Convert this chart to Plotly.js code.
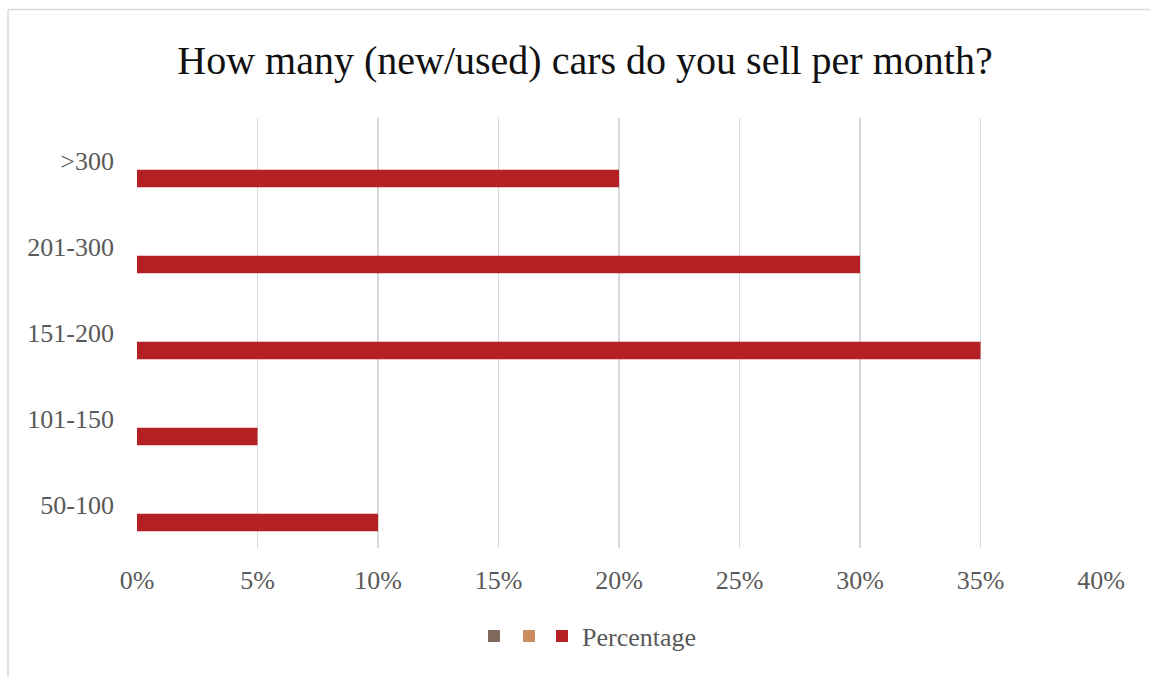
<!DOCTYPE html>
<html>
<head>
<meta charset="utf-8">
<script src="https://cdn.plot.ly/plotly-3.0.1.min.js"></script>
<style>html,body{margin:0;padding:0;background:#fff;}#chart{width:1150px;height:677px;}</style>
</head>
<body>
<div id="chart"></div>
<script>
const categories = ['50-100', '101-150', '151-200', '201-300', '>300'];
const percentage = [0.10, 0.05, 0.35, 0.30, 0.20];
const emptySeries1 = [0, 0, 0, 0, 0];
const emptySeries2 = [0, 0, 0, 0, 0];
const xTickVals = [0, 0.05, 0.10, 0.15, 0.20, 0.25, 0.30, 0.35, 0.40];
const xTickText = ['0%', '5%', '10%', '15%', '20%', '25%', '30%', '35%', '40%'];

const serif = 'Liberation Serif, DejaVu Serif, serif';
const legFont = {family: serif, size: 26, color: '#595959'};
const px = v => (v - 137) / 964;
const legY = (548 - 636) / 430;

const traces = [
  {type: 'bar', orientation: 'h', y: categories, x: percentage, name: 'Percentage',
   marker: {color: '#b52024', line: {width: 0}}, legend: 'legend'},
  {type: 'bar', orientation: 'h', y: categories, x: emptySeries2, name: '',
   marker: {color: '#cc8d5e', line: {width: 0}}, legend: 'legend2'},
  {type: 'bar', orientation: 'h', y: categories, x: emptySeries1, name: '',
   marker: {color: '#7f695d', line: {width: 0}}, legend: 'legend3'}
];

const legBase = {orientation: 'h', xref: 'paper', xanchor: 'left', yref: 'paper', y: legY,
                 yanchor: 'middle', font: legFont, bgcolor: 'rgba(0,0,0,0)'};

const layout = {
  width: 1150, height: 677,
  margin: {l: 137, r: 49, t: 118, b: 129},
  paper_bgcolor: '#ffffff', plot_bgcolor: '#ffffff',
  font: {family: serif, color: '#595959', size: 26},
  title: {text: 'How many (new/used) cars do you sell per month?',
          font: {family: serif, size: 40, color: '#111111'},
          xref: 'container', x: 0.5087, xanchor: 'center',
          yref: 'container', y: 1 - 60 / 677, yanchor: 'middle'},
  barmode: 'group', bargap: 0.39, bargroupgap: 0,
  xaxis: {range: [0, 0.40], tickvals: xTickVals, ticktext: xTickText,
          showgrid: true, gridcolor: '#d9d9d9', gridwidth: 1.5,
          zeroline: false, showline: false, ticks: '', ticklabelstandoff: 14,
          tickfont: {family: serif, size: 26, color: '#595959'}, fixedrange: true},
  yaxis: {type: 'category', categoryorder: 'array', categoryarray: categories,
          showgrid: false, zeroline: false, showline: false, ticks: '',
          ticklabelstandoff: 22,
          tickfont: {family: serif, size: 26, color: '#595959'}, fixedrange: true},
  showlegend: true,
  legend: Object.assign({}, legBase, {x: px(542)}),
  legend2: Object.assign({}, legBase, {x: px(509)}),
  legend3: Object.assign({}, legBase, {x: px(474)}),
  shapes: [
    {type: 'line', xref: 'paper', yref: 'paper', x0: px(8), x1: px(1155),
     y0: (548 - 9.5) / 430, y1: (548 - 9.5) / 430, line: {color: '#d9d9d9', width: 1.5}},
    {type: 'line', xref: 'paper', yref: 'paper', x0: px(8), x1: px(8),
     y0: (548 - 9.5) / 430, y1: (548 - 690) / 430, line: {color: '#d9d9d9', width: 1.5}}
  ]
};

Plotly.newPlot('chart', traces, layout, {displayModeBar: false, staticPlot: true});
</script>
</body>
</html>
